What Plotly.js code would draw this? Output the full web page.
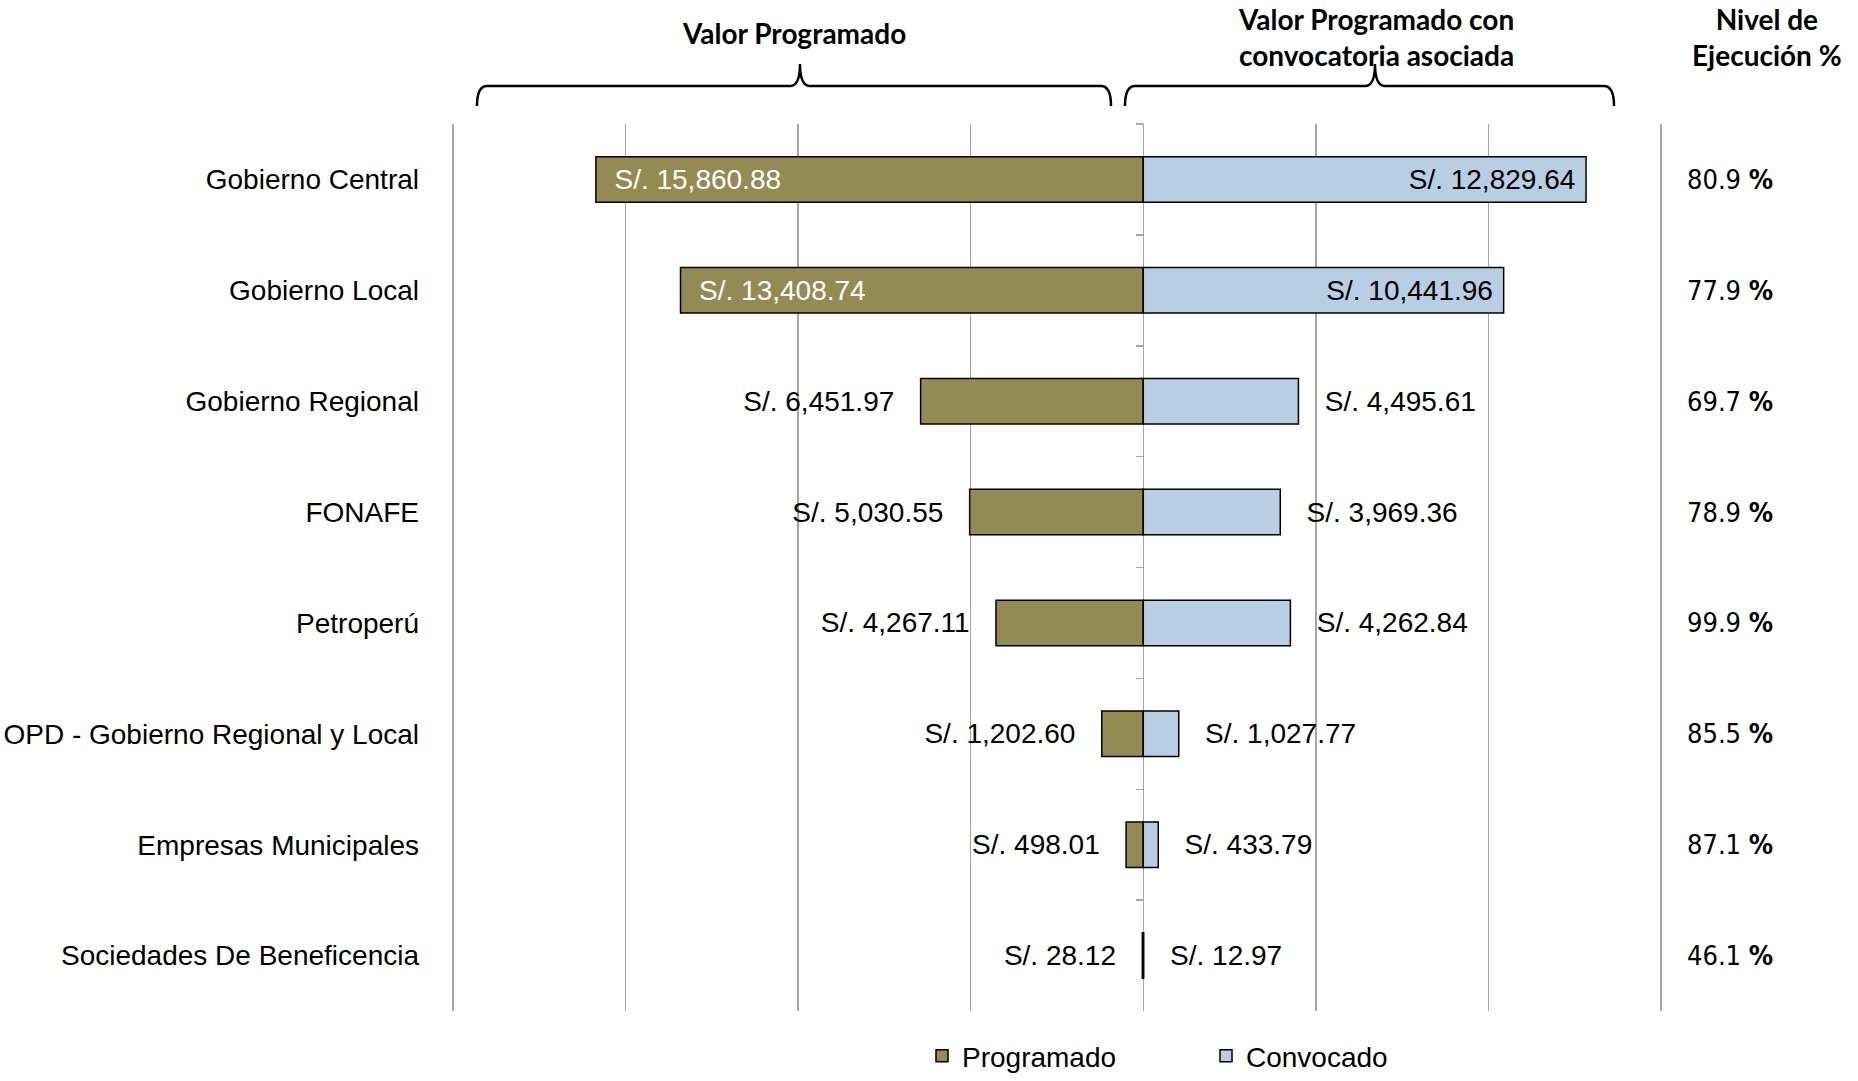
<!DOCTYPE html>
<html>
<head>
<meta charset="utf-8">
<script src="https://cdn.plot.ly/plotly-3.0.1.min.js"></script>
<style>html,body{margin:0;padding:0;background:#fff;}#chart{width:1858px;height:1081px;}</style>
</head>
<body>
<div id="chart"></div>
<script>
const categories = ['Gobierno Central', 'Gobierno Local', 'Gobierno Regional', 'FONAFE', 'Petroperú',
  'OPD - Gobierno Regional y Local', 'Empresas Municipales', 'Sociedades De Beneficencia'];
const programado = [15860.88, 13408.74, 6451.97, 5030.55, 4267.11, 1202.60, 498.01, 28.12];
const convocado = [12829.64, 10441.96, 4495.61, 3969.36, 4262.84, 1027.77, 433.79, 12.97];
const seriesNames = ['Programado', 'Convocado'];
const headerLeft = 'Valor Programado';
const headerMid = 'Valor Programado con<br>convocatoria asociada';
const headerRight = 'Nivel de<br>Ejecución %';

// layout geometry (pixels)
const W = 1858, H = 1081;
const M = {l: 452, r: 196, t: 124, b: 70, autoexpand: false};
const PW = W - M.l - M.r, PH = H - M.t - M.b;
const xp = px => (px - M.l) / PW;
const yp = py => (H - M.b - py) / PH;

const fmt = v => 'S/. ' + v.toLocaleString('en-US', {minimumFractionDigits: 2, maximumFractionDigits: 2});
const insideThreshold = 8000;
const FONT = 'Liberation Sans, Arial, sans-serif';
const NB = '\u00a0';
const posOf = v => v > insideThreshold ? 'inside' : 'outside';

const traces = [
  {
    type: 'bar', orientation: 'h', name: seriesNames[0],
    y: categories, x: programado.map(v => -v),
    text: programado.map(v => posOf(v) === 'inside' ? NB + NB + fmt(v) : fmt(v) + NB + NB + NB),
    textposition: programado.map(posOf),
    insidetextanchor: 'end',
    insidetextfont: {family: FONT, size: 28, color: '#ffffff'},
    outsidetextfont: {family: FONT, size: 28, color: '#000000'},
    textfont: {family: FONT, size: 28},
    constraintext: 'none', cliponaxis: false,
    marker: {color: '#948A54', line: {color: '#000000', width: 1.5}},
    hoverinfo: 'y+text'
  },
  {
    type: 'bar', orientation: 'h', name: seriesNames[1],
    y: categories, x: convocado,
    text: convocado.map(v => posOf(v) === 'inside' ? fmt(v) + NB : NB + NB + NB + fmt(v)),
    textposition: convocado.map(posOf),
    insidetextanchor: 'end',
    insidetextfont: {family: FONT, size: 28, color: '#000000'},
    outsidetextfont: {family: FONT, size: 28, color: '#000000'},
    textfont: {family: FONT, size: 28},
    constraintext: 'none', cliponaxis: false,
    marker: {color: '#B9CDE5', line: {color: '#000000', width: 1.5}},
    hoverinfo: 'y+text'
  },
  {
    type: 'scatter', mode: 'markers', y: categories, x: categories.map(() => 0),
    yaxis: 'y2', marker: {opacity: 0}, showlegend: false, hoverinfo: 'skip'
  }
];

function bracePath(x1, x2, xt, yLine, yEnd, yTip) {
  const c = 10;
  const P = (x, y) => xp(x) + ',' + yp(y);
  return 'M ' + P(x1, yEnd) + ' Q ' + P(x1, yLine) + ' ' + P(x1 + c, yLine) +
    ' L ' + P(xt - c, yLine) + ' Q ' + P(xt, yLine) + ' ' + P(xt, yTip) +
    ' Q ' + P(xt, yLine) + ' ' + P(xt + c, yLine) +
    ' L ' + P(x2 - c, yLine) + ' Q ' + P(x2, yLine) + ' ' + P(x2, yEnd);
}

const pctAnn = categories.map((c, i) => ({
  xref: 'paper', yref: 'y', x: xp(1685), y: c, xanchor: 'left', yanchor: 'middle',
  text: (convocado[i] / programado[i] * 100).toFixed(1) + ' <b>%</b>',
  showarrow: false,
  font: {family: 'DejaVu Sans Condensed, DejaVu Sans, Verdana, sans-serif', size: 27, color: '#000'}
}));

const headerFont = {family: 'Lato, Open Sans, sans-serif', size: 28, color: '#000'};
const annotations = [
  {xref: 'paper', yref: 'paper', x: xp(794), y: yp(33), text: '<b>' + headerLeft + '</b>', showarrow: false, font: headerFont, xanchor: 'center', yanchor: 'middle'},
  {xref: 'paper', yref: 'paper', x: xp(1376), y: yp(37), text: '<b>' + headerMid + '</b>', showarrow: false, font: headerFont, xanchor: 'center', yanchor: 'middle'},
  {xref: 'paper', yref: 'paper', x: xp(1767), y: yp(37), text: '<b>' + headerRight + '</b>', showarrow: false, font: headerFont, xanchor: 'center', yanchor: 'middle'}
].concat(pctAnn);

const shapes = [
  {type: 'path', xref: 'paper', yref: 'paper', path: bracePath(477, 1111, 800, 86, 106, 64), line: {color: '#000', width: 2.5}},
  {type: 'path', xref: 'paper', yref: 'paper', path: bracePath(1125, 1614, 1375, 86, 106, 64), line: {color: '#000', width: 2.5}}
];

const layout = {
  width: W, height: H,
  margin: M,
  paper_bgcolor: '#ffffff', plot_bgcolor: '#ffffff',
  barmode: 'overlay', bargap: 0.59,
  showlegend: true,
  legend: {orientation: 'h', x: xp(922), y: yp(1081), xanchor: 'left', yanchor: 'bottom',
    entrywidth: 239, font: {family: FONT, size: 28, color: '#000'}, traceorder: 'normal'},
  xaxis: {range: [-20030, 15030], dtick: 5000, tick0: 0, showticklabels: false, ticks: '',
    showgrid: true, gridcolor: '#A6A6A6', gridwidth: 1.5,
    zeroline: true, zerolinecolor: '#A6A6A6', zerolinewidth: 1.5, showline: false, fixedrange: true},
  yaxis: {type: 'category', autorange: 'reversed', showgrid: false, ticks: '', showline: false,
    zeroline: false, tickfont: {family: FONT, size: 28, color: '#000'}, ticklabelstandoff: 32, fixedrange: true},
  yaxis2: {type: 'category', overlaying: 'y', matches: 'y', autorange: 'reversed', anchor: 'free',
    position: 20030 / 35060, side: 'left', ticks: 'outside', tickson: 'boundaries', ticklen: 7,
    tickwidth: 1.5, tickcolor: '#A6A6A6', showticklabels: false, showgrid: false, showline: false, zeroline: false},
  annotations: annotations,
  shapes: shapes
};

Plotly.newPlot('chart', traces, layout, {displayModeBar: false, staticPlot: true});
</script>
</body>
</html>
